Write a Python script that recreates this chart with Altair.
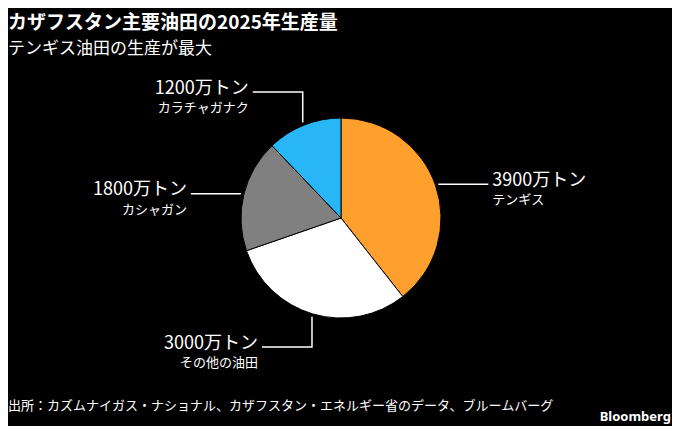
import math
import altair as alt
import pandas as pd

# ---- data -------------------------------------------------------------
title = "カザフスタン主要油田の2025年生産量"
subtitle = "テンギス油田の生産が最大"
source = "出所：カズムナイガス・ナショナル、カザフスタン・エネルギー省のデータ、ブルームバーグ"
brand = "Bloomberg"

fields = ["テンギス", "その他の油田", "カシャガン", "カラチャガナク"]
output = [3900, 3000, 1800, 1200]  # 万トン
unit = "万トン"

# ---- styles / layout ---------------------------------------------------
colors = ["#ffa02e", "#ffffff", "#808080", "#29b6f6"]
W, H = 664, 418
CX, CY, R = 333, 210, 100
FONT = "Noto Sans CJK JP"
LEAD = 50          # horizontal leader length
ANCHOR_R = R + 3   # where leader starts
# kind, direction, elbow y (for vertical-then-horizontal leaders)
label_layout = {
    "テンギス": ("h", 1, None),
    "その他の油田": ("v", -1, 339),
    "カシャガン": ("h", -1, None),
    "カラチャガナク": ("v", -1, 84),
}

pie_df = pd.DataFrame({"name": fields, "value": output, "idx": range(len(fields))})

total = sum(output)
cum = 0
line_rows, text_rows = [], []
for name, v in zip(fields, output):
    a0 = cum / total * 2 * math.pi
    cum += v
    a1 = cum / total * 2 * math.pi
    mid = (a0 + a1) / 2
    ax = CX + ANCHOR_R * math.sin(mid)
    ay = CY - ANCHOR_R * math.cos(mid)
    kind, d, elbow = label_layout[name]
    pts = [(ax, ay)]
    if kind == "v":
        pts.append((ax, elbow))
        ly = elbow
    else:
        ly = ay
    ex = ax + d * LEAD
    pts.append((ex, ly))
    for i, (px, py) in enumerate(pts):
        line_rows.append({"name": name, "seq": i, "x": px, "y": py})
    text_rows.append({
        "name": name,
        "main": f"{v}{unit}",
        "sub": name,
        "x": ex + d * 4,
        "ym": ly + 1.5,
        "ys": ly + 20,
        "side": "left" if d > 0 else "right",
    })

lines_df = pd.DataFrame(line_rows)
text_df = pd.DataFrame(text_rows)

# ---- marks -------------------------------------------------------------
pie = alt.Chart(pie_df).mark_arc(radius=R, stroke="black", strokeWidth=1).encode(
    theta=alt.Theta("value:Q", stack=True),
    color=alt.Color("name:N", scale=alt.Scale(domain=fields, range=colors), legend=None),
    order=alt.Order("idx:Q", sort="ascending"),
    x=alt.value(CX),
    y=alt.value(CY),
)

leaders = alt.Chart(lines_df).mark_line(color="white", strokeWidth=1.5).encode(
    x=alt.X("x:Q", scale=None, axis=None),
    y=alt.Y("y:Q", scale=None, axis=None),
    detail="name:N",
    order="seq:Q",
)

label_layers = []
for side in ["left", "right"]:
    sub_df = text_df[text_df["side"] == side]
    base = alt.Chart(sub_df)
    label_layers.append(
        base.mark_text(align=side, baseline="alphabetic", fontSize=18, color="white", font=FONT).encode(
            x=alt.X("x:Q", scale=None, axis=None),
            y=alt.Y("ym:Q", scale=None, axis=None),
            text="main:N",
        )
    )
    label_layers.append(
        base.mark_text(align=side, baseline="alphabetic", fontSize=13, color="white", font=FONT).encode(
            x=alt.X("x:Q", scale=None, axis=None),
            y=alt.Y("ys:Q", scale=None, axis=None),
            text="sub:N",
        )
    )


def text_block(txt, x, y, size, bold=False, align="left", font=FONT):
    return alt.Chart(pd.DataFrame({"t": [txt]})).mark_text(
        align=align, baseline="alphabetic", fontSize=size, color="white",
        font=font, fontWeight="bold" if bold else "normal",
    ).encode(x=alt.value(x), y=alt.value(y), text="t:N")


title_t = text_block(title, 0, 21, 19, bold=True)
subtitle_t = text_block(subtitle, 0, 46, 17)
source_t = text_block(source, 0, 402, 13)
brand_t = text_block(brand, W - 1, 413, 13, bold=True, align="right", font="Noto Sans")

chart = alt.layer(
    pie, leaders, *label_layers, title_t, subtitle_t, source_t, brand_t
).properties(
    width=W, height=H, background="black",
    autosize=alt.AutoSizeParams(type="none"), padding=0,
).configure_view(stroke=None)

chart.save("out.html", embed_options={"renderer": "svg", "actions": False})
